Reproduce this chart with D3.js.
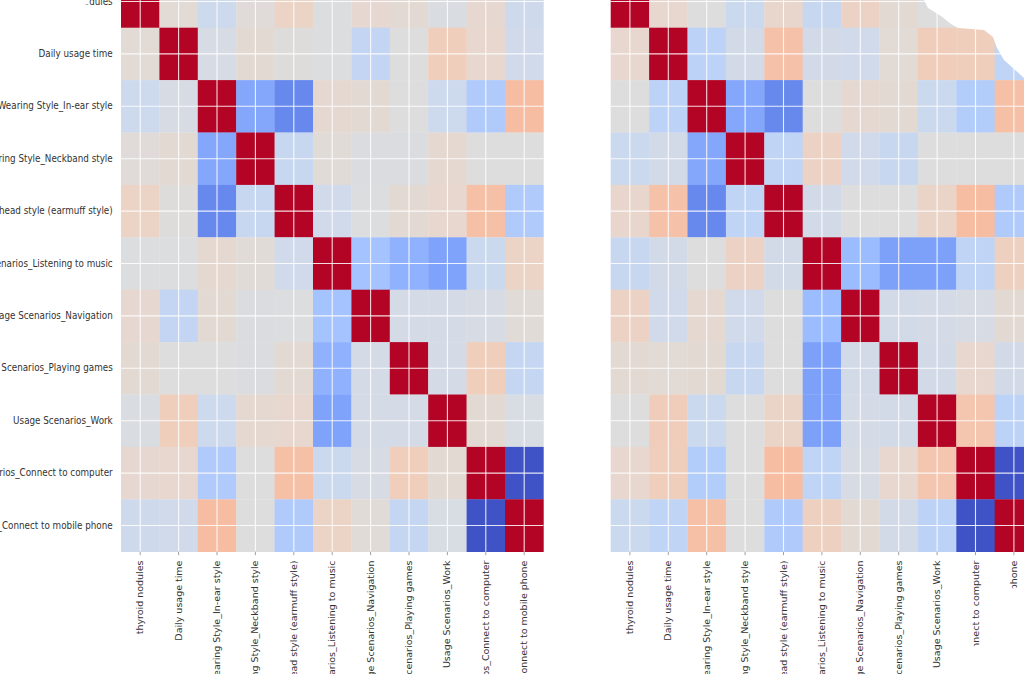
<!DOCTYPE html>
<html>
<head>
<meta charset="utf-8">
<script src="https://cdn.jsdelivr.net/npm/d3@7"></script>
<style>
  body { margin: 0; background: #fff; }
  svg { display: block; }
  text { font-family: "DejaVu Sans", sans-serif; fill: #333; }
</style>
</head>
<body>
<svg id="chart" width="1024" height="674"></svg>
<script>
// column / row names of both correlation matrices
var labels = [
  "thyroid nodules",
  "Daily usage time",
  "Wearing Style_In-ear style",
  "Wearing Style_Neckband style",
  "Wearing Style_Overhead style (earmuff style)",
  "Usage Scenarios_Listening to music",
  "Usage Scenarios_Navigation",
  "Usage Scenarios_Playing games",
  "Usage Scenarios_Work",
  "Usage Scenarios_Connect to computer",
  "Usage Scenarios_Connect to mobile phone"
];

// left heatmap
var corrLeft = [
  [1, 0.04, -0.12, 0.02, 0.12, -0.01, 0.07, 0.05, -0.03, 0.07, -0.11],
  [0.04, 1, -0.05, 0.05, 0.01, -0.01, -0.18, 0, 0.17, 0.08, -0.1],
  [-0.12, -0.05, 1, -0.55, -0.72, 0.06, 0.05, 0, -0.12, -0.3, 0.3],
  [0.02, 0.05, -0.55, 1, -0.15, 0.03, -0.02, -0.02, 0.06, 0, 0],
  [0.12, 0.01, -0.72, -0.15, 1, -0.1, -0.01, 0.05, 0.08, 0.28, -0.3],
  [-0.01, -0.01, 0.06, 0.03, -0.1, 1, -0.37, -0.49, -0.58, -0.13, 0.12],
  [0.07, -0.18, 0.05, -0.02, -0.01, -0.37, 1, -0.06, -0.06, -0.05, 0.03],
  [0.05, 0, 0, -0.02, 0.05, -0.49, -0.06, 1, -0.06, 0.17, -0.17],
  [-0.03, 0.17, -0.12, 0.06, 0.08, -0.58, -0.06, -0.06, 1, 0.05, -0.04],
  [0.07, 0.08, -0.3, 0, 0.28, -0.13, -0.05, 0.17, 0.05, 1, -0.97],
  [-0.11, -0.1, 0.3, 0, -0.3, 0.12, 0.03, -0.17, -0.04, -0.97, 1]
];

// right heatmap
var corrRight = [
  [1, 0.08, 0, -0.13, 0.09, -0.15, 0.13, 0.05, 0, 0.08, -0.13],
  [0.08, 1, -0.22, -0.08, 0.27, -0.08, -0.1, 0.04, 0.18, 0.17, -0.2],
  [0, -0.22, 1, -0.55, -0.72, 0, 0.06, 0.05, -0.13, -0.28, 0.28],
  [-0.13, -0.08, -0.55, 1, -0.2, 0.13, -0.1, -0.15, 0, 0, 0],
  [0.09, 0.27, -0.72, -0.2, 1, -0.08, 0, 0, 0.11, 0.3, -0.3],
  [-0.15, -0.08, 0, 0.13, -0.08, 1, -0.42, -0.59, -0.59, -0.2, 0.15],
  [0.13, -0.1, 0.06, -0.1, 0, -0.42, 1, -0.08, -0.06, -0.05, 0.05],
  [0.05, 0.04, 0.05, -0.15, 0, -0.59, -0.08, 1, -0.08, 0.08, -0.08],
  [0, 0.18, -0.13, 0, 0.11, -0.59, -0.06, -0.08, 1, 0.24, -0.22],
  [0.08, 0.17, -0.28, 0, 0.3, -0.2, -0.05, 0.08, 0.24, 1, -0.97],
  [-0.13, -0.2, 0.28, 0, -0.3, 0.15, 0.05, -0.08, -0.22, -0.97, 1]
];

// coolwarm colormap, 33 stops from -1 to 1
var coolwarm = ["#3b4cc0","#445acc","#4d68d7","#5775e1","#6282ea","#6c8ef1","#779af7","#82a5fb",
  "#8db0fe","#98b9ff","#a3c2ff","#aec9fd","#b8d0f9","#c2d5f4","#ccd9ee","#d5dbe6","#dddddd",
  "#e5d8d1","#ecd3c5","#f1ccb9","#f5c4ad","#f7bba0","#f7b194","#f7a687","#f49a7b","#f18d6f",
  "#ec7f63","#e57058","#de604d","#d55042","#cb3e38","#c0282f","#b40426"];

var color = d3.scaleLinear()
  .domain(coolwarm.map(function(c, i) { return -1 + 2 * i / (coolwarm.length - 1); }))
  .range(coolwarm)
  .interpolate(d3.interpolateRgb)
  .clamp(true);

var svg = d3.select("#chart");
var idx = d3.range(labels.length);
var stretch = 1.08;   // the picture is a little taller than wide

// rows are shared by both panels
var y = d3.scaleBand().domain(idx).range([-24.7, 551.7]);

function drawHeatmap(matrix, x0, showRowLabels) {
  var x = d3.scaleBand().domain(idx).range([x0, x0 + 422.4]);
  var g = svg.append("g");

  // cells
  g.selectAll("g.row")
    .data(matrix)
    .enter().append("g")
    .attr("class", "row")
    .each(function(row, i) {
      d3.select(this).selectAll("rect")
        .data(row)
        .enter().append("rect")
        .attr("x", function(d, j) { return x(j); })
        .attr("y", y(i))
        .attr("width", x.bandwidth() + 0.3)
        .attr("height", y.bandwidth() + 0.3)
        .attr("fill", function(d) { return color(d); });
    });

  // white grid through the cell centres
  g.selectAll("line.vgrid")
    .data(idx)
    .enter().append("line")
    .attr("x1", function(d) { return x(d) + x.bandwidth() / 2; })
    .attr("x2", function(d) { return x(d) + x.bandwidth() / 2; })
    .attr("y1", y.range()[0]).attr("y2", y.range()[1])
    .attr("stroke", "#fff").attr("stroke-opacity", 0.85).attr("stroke-width", 1.1);
  g.selectAll("line.hgrid")
    .data(idx)
    .enter().append("line")
    .attr("x1", x.range()[0]).attr("x2", x.range()[1])
    .attr("y1", function(d) { return y(d) + y.bandwidth() / 2; })
    .attr("y2", function(d) { return y(d) + y.bandwidth() / 2; })
    .attr("stroke", "#fff").attr("stroke-opacity", 0.85).attr("stroke-width", 1.1);

  // x axis, rotated labels
  var xAxis = d3.axisBottom(x)
    .tickSize(3.5)
    .tickFormat(function(d) { return labels[d]; });
  var ax = g.append("g")
    .attr("transform", "translate(0," + y.range()[1] + ")")
    .call(xAxis);
  ax.select(".domain").remove();
  ax.selectAll(".tick line").attr("stroke", "#8a8a8a").attr("stroke-width", 0.8);
  ax.selectAll(".tick text")
    .attr("font-size", 8.8)
    .attr("transform", "scale(1," + stretch + ") rotate(-90)")
    .attr("x", -8.2)
    .attr("y", 0)
    .attr("dy", "0.35em")
    .attr("text-anchor", "end");

  if (showRowLabels) {
    var yAxis = d3.axisLeft(y).tickSize(0).tickPadding(8.3)
      .tickFormat(function(d) { return labels[d]; });
    var ay = g.append("g")
      .attr("transform", "translate(" + x0 + ",0)")
      .call(yAxis);
    ay.select(".domain").remove();
    ay.selectAll(".tick text")
      .attr("font-size", 8.8)
      .attr("transform", "scale(1," + (stretch + 0.04) + ")");
  }
}

drawHeatmap(corrLeft, 121, true);
drawHeatmap(corrRight, 610.7, false);

// torn / erased patches that are part of the source picture
svg.append("path")
  .attr("d", "M0,0 L89,0 L89,4 L70,8 L0,9 Z")
  .attr("fill", "#fff");
svg.append("path")
  .attr("d", "M924,0 L928,8 L941,16 L951,24 L958,28 L972,29 L984,30 L993,37 L997,48 L1004,60 L1014,69 L1024,78 L1024,0 Z")
  .attr("fill", "#fff");
svg.append("path")
  .attr("d", "M1024,586 L1003,590 L996,608 L990,644 L962,648 L950,654 L942,674 L1024,674 Z")
  .attr("fill", "#fff");
</script>
</body>
</html>
